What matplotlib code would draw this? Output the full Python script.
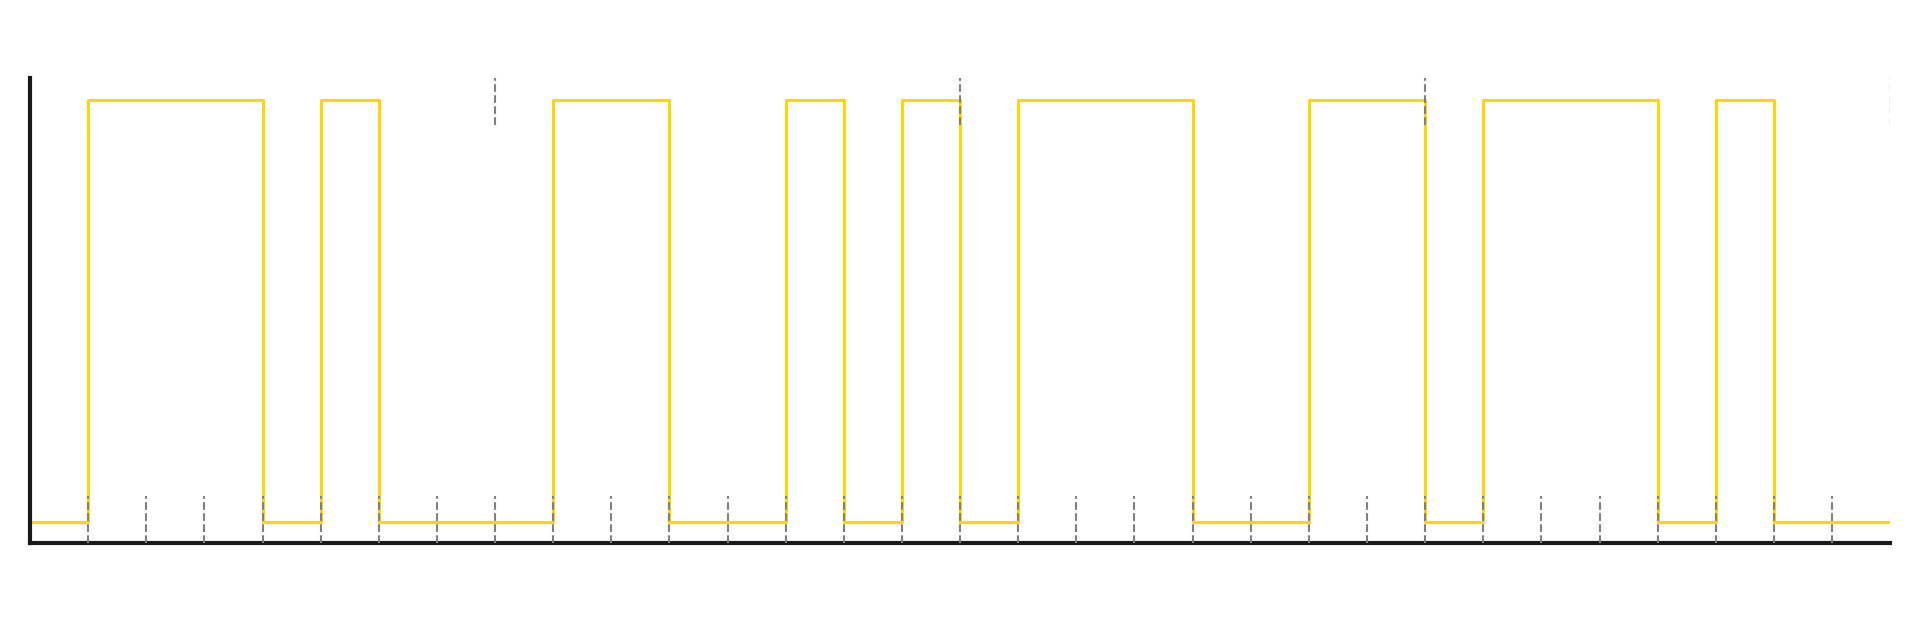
import numpy as np
import matplotlib
matplotlib.use("Agg")
import matplotlib.pyplot as plt

# 32 bits (ASCII "test", MSB first)
bits = [0, 1, 1, 1, 0, 1, 0, 0,
        0, 1, 1, 0, 0, 1, 0, 1,
        0, 1, 1, 1, 0, 0, 1, 1,
        0, 1, 1, 1, 0, 1, 0, 0]
bit_marks = list(range(1, 32))      # short dashes at the bottom, every bit
byte_marks = [8, 16, 24]            # short dashes at the top, every byte
end_mark = 32                       # last byte mark, barely visible at the edge

fig = plt.figure(figsize=(19.19, 6.2), dpi=100)
ax = fig.add_axes([0.01567, 0.1247, 0.9693, 0.7487])

x = np.arange(len(bits) + 1)
y = bits + [bits[-1]]
ax.step(x, y, where="post", color="#FFD700", lw=2.2, zorder=2)

for k in bit_marks:
    ax.axvline(k, ymin=0, ymax=0.1, color="gray", ls="--", lw=1.5, zorder=3)
for k in byte_marks:
    ax.axvline(k, ymin=0.9, ymax=1.0, color="gray", ls="--", lw=1.5, zorder=3)
ax.axvline(end_mark, ymin=0.9, ymax=1.0, color="gray", ls="--", lw=1.5, alpha=0.12)

ax.set_xlim(0, len(bits))
ax.set_ylim(-0.05, 1.05)
ax.set_xticks([])
ax.set_yticks([])
for s in ["top", "right"]:
    ax.spines[s].set_visible(False)
for s in ["left", "bottom"]:
    ax.spines[s].set_color("#1a1a1a")
    ax.spines[s].set_linewidth(3)

fig.savefig("out.png", dpi=100)
